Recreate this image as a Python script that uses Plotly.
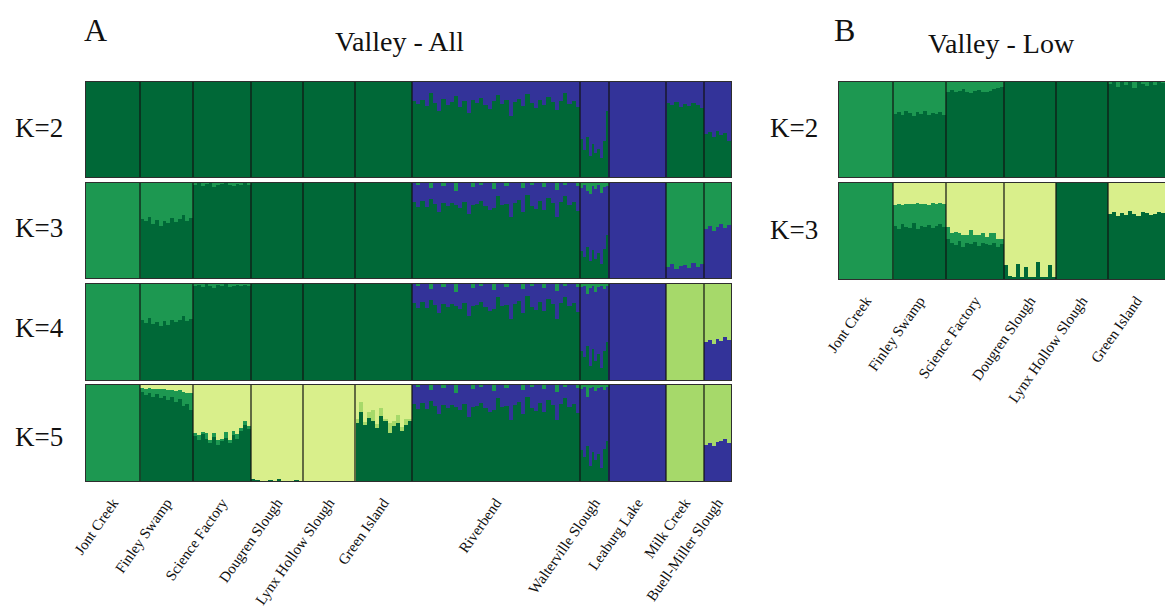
import plotly.graph_objects as go

# ---------------- data ----------------
POPS_A = ["Jont Creek", "Finley Swamp", "Science Factory", "Dougren Slough",
          "Lynx Hollow Slough", "Green Island", "Riverbend", "Walterville Slough",
          "Leaburg Lake", "Milk Creek", "Buell-Miller Slough"]
SIZES_A = [54, 53, 58, 52, 52, 57, 168, 29, 57, 38, 27]   # relative sample sizes
POPS_B = POPS_A[:6]
SIZES_B = SIZES_A[:6]

COLORS = {"dg": "#006837", "bl": "#333399", "mg": "#1d9851",
          "lg": "#a6d96a", "py": "#d9ef8b"}
ORDER_A = ["dg", "bl", "mg", "lg", "py"]
ORDER_B = ["dg", "mg", "py"]

RB_BLUE = [0.20, 0.23, 0.19, 0.25, 0.12, 0.22, 0.30, 0.18, 0.24, 0.21,
           0.15, 0.26, 0.20, 0.33, 0.19, 0.22, 0.17, 0.24, 0.28, 0.20,
           0.14, 0.23, 0.19, 0.36, 0.21, 0.18, 0.25, 0.13, 0.22, 0.27,
           0.19, 0.24, 0.16, 0.21, 0.29, 0.20, 0.12, 0.23, 0.20, 0.26]
RB_MG = [0, 0.02, 0, 0, 0.05, 0, 0, 0.03, 0, 0, 0.08, 0, 0, 0, 0.04, 0, 0.02, 0, 0, 0.06,
         0, 0, 0.03, 0, 0, 0, 0.05, 0, 0.02, 0, 0, 0.04, 0, 0, 0.07, 0, 0.02, 0, 0, 0.03]

FIN_K3_DG = [0.62, 0.60, 0.64, 0.57, 0.61, 0.55, 0.60, 0.58, 0.63, 0.59, 0.62, 0.66, 0.60, 0.63]
FIN_K4_DG = [0.63, 0.59, 0.65, 0.58, 0.60, 0.56, 0.61, 0.57, 0.62, 0.60, 0.63, 0.67, 0.61, 0.64]

A_K2 = {
    "Jont Creek": ("dg", {}), "Finley Swamp": ("dg", {}), "Science Factory": ("dg", {}),
    "Dougren Slough": ("dg", {}), "Lynx Hollow Slough": ("dg", {}), "Green Island": ("dg", {}),
    "Riverbend": ("dg", {"bl": RB_BLUE}),
    "Walterville Slough": ("bl", {"dg": [0.40, 0.28, 0.42, 0.22, 0.35, 0.25, 0.30, 0.20, 0.38, 0.70]}),
    "Leaburg Lake": ("bl", {}),
    "Milk Creek": ("bl", {"dg": [0.78, 0.76, 0.79, 0.74, 0.77, 0.75, 0.78, 0.76, 0.73]}),
    "Buell-Miller Slough": ("bl", {"dg": [0.45, 0.47, 0.42, 0.48, 0.44, 0.46, 0.38]}),
}
A_K3 = {
    "Jont Creek": ("mg", {}),
    "Finley Swamp": ("mg", {"dg": FIN_K3_DG}),
    "Science Factory": ("dg", {"mg": [0.02, 0, 0.03, 0.01, 0, 0.04, 0.02, 0.01, 0, 0.02, 0.03, 0.01, 0.02, 0, 0.02]}),
    "Dougren Slough": ("dg", {}), "Lynx Hollow Slough": ("dg", {}), "Green Island": ("dg", {}),
    "Riverbend": ("dg", {"bl": RB_BLUE, "mg": RB_MG}),
    "Walterville Slough": ("bl", {"dg": [0.28, 0.22, 0.33, 0.18, 0.30, 0.20, 0.26, 0.15, 0.31, 0.45],
                                  "mg": [0.05, 0.02, 0.08, 0.12, 0.03, 0.06, 0.02, 0.10, 0.04, 0.03]}),
    "Leaburg Lake": ("bl", {}),
    "Milk Creek": ("mg", {"bl": [0.12, 0.15, 0.10, 0.13, 0.14, 0.11, 0.16, 0.12, 0.15]}),
    "Buell-Miller Slough": ("mg", {"bl": [0.52, 0.55, 0.50, 0.54, 0.57, 0.53, 0.56]}),
}
A_K4 = {
    "Jont Creek": ("mg", {}),
    "Finley Swamp": ("mg", {"dg": FIN_K4_DG}),
    "Science Factory": ("dg", {"mg": [0.02, 0.01, 0.03, 0, 0.02, 0.04, 0.01, 0.02, 0, 0.03, 0.02, 0.01, 0.02, 0.01, 0.02]}),
    "Dougren Slough": ("dg", {}), "Lynx Hollow Slough": ("dg", {}), "Green Island": ("dg", {}),
    "Riverbend": ("dg", {"bl": RB_BLUE, "mg": RB_MG}),
    "Walterville Slough": ("bl", {"dg": [0.30, 0.24, 0.35, 0.15, 0.32, 0.20, 0.27, 0.12, 0.30, 0.40],
                                  "mg": [0.03, 0.02, 0.10, 0.04, 0.02, 0.08, 0.03, 0.02, 0.05, 0.02]}),
    "Leaburg Lake": ("bl", {}),
    "Milk Creek": ("lg", {}),
    "Buell-Miller Slough": ("lg", {"bl": [0.40, 0.42, 0.38, 0.43, 0.41, 0.45, 0.42]}),
}
A_K5 = {
    "Jont Creek": ("mg", {}),
    "Finley Swamp": ("py", {"dg": [0.93, 0.90, 0.92, 0.88, 0.91, 0.86, 0.89, 0.84, 0.87, 0.82, 0.85, 0.78, 0.80, 0.74],
                            "mg": [0.04, 0.06, 0.05, 0.08, 0.05, 0.10, 0.07, 0.11, 0.08, 0.12, 0.10, 0.15, 0.12, 0.18]}),
    "Science Factory": ("py", {"dg": [0.47, 0.43, 0.49, 0.44, 0.40, 0.46, 0.38, 0.42, 0.45, 0.40, 0.48, 0.44, 0.52, 0.58, 0.55],
                               "mg": [0.03, 0.05, 0.02, 0.06, 0.03, 0.04, 0.05, 0.02, 0.06, 0.03, 0.04, 0.05, 0.03, 0.04, 0.02]}),
    "Dougren Slough": ("py", {"dg": [0.02, 0.01, 0, 0, 0.01, 0, 0.02, 0, 0, 0, 0.01, 0]}),
    "Lynx Hollow Slough": ("py", {}),
    "Green Island": ("py", {"dg": [0.60, 0.72, 0.58, 0.66, 0.62, 0.55, 0.68, 0.63, 0.50, 0.57, 0.60, 0.52, 0.58, 0.62],
                            "lg": [0.05, 0.10, 0.03, 0.06, 0.12, 0.04, 0.08, 0.02, 0.10, 0.05, 0.09, 0.04, 0.07, 0.03]}),
    "Riverbend": ("dg", {"bl": RB_BLUE, "mg": RB_MG}),
    "Walterville Slough": ("bl", {"dg": [0.32, 0.25, 0.36, 0.16, 0.30, 0.22, 0.28, 0.14, 0.33, 0.42],
                                  "mg": [0.04, 0.02, 0.12, 0.03, 0.02, 0.06, 0.03, 0.02, 0.05, 0.02]}),
    "Leaburg Lake": ("bl", {}),
    "Milk Creek": ("lg", {}),
    "Buell-Miller Slough": ("lg", {"bl": [0.38, 0.40, 0.36, 0.41, 0.42, 0.44, 0.40]}),
}
B_K2 = {
    "Jont Creek": ("mg", {}),
    "Finley Swamp": ("mg", {"dg": [0.66, 0.68, 0.65, 0.70, 0.67, 0.64, 0.68, 0.66, 0.69, 0.65, 0.67, 0.66, 0.68, 0.65]}),
    "Science Factory": ("mg", {"dg": [0.90, 0.92, 0.89, 0.91, 0.93, 0.90, 0.88, 0.91, 0.92, 0.90, 0.89, 0.91, 0.93, 0.94, 0.95]}),
    "Dougren Slough": ("dg", {}), "Lynx Hollow Slough": ("dg", {}),
    "Green Island": ("mg", {"dg": [0.98, 1.0, 0.95, 1.0, 0.97, 1.0, 0.94, 1.0, 0.98, 0.96, 1.0, 0.97, 1.0, 0.99]}),
}
B_K3 = {
    "Jont Creek": ("mg", {}),
    "Finley Swamp": ("py", {"dg": [0.55, 0.52, 0.57, 0.54, 0.53, 0.58, 0.52, 0.55, 0.54, 0.56, 0.53, 0.55, 0.57, 0.54],
                            "mg": [0.22, 0.26, 0.20, 0.24, 0.25, 0.20, 0.27, 0.23, 0.24, 0.21, 0.26, 0.23, 0.22, 0.24]}),
    "Science Factory": ("py", {"dg": [0.42, 0.38, 0.35, 0.40, 0.33, 0.37, 0.36, 0.39, 0.34, 0.38, 0.36, 0.35, 0.37, 0.33, 0.36],
                               "mg": [0.12, 0.10, 0.14, 0.08, 0.13, 0.09, 0.15, 0.07, 0.12, 0.10, 0.08, 0.13, 0.11, 0.09, 0.06]}),
    "Dougren Slough": ("py", {"dg": [0.15, 0.03, 0.02, 0.16, 0.02, 0.12, 0.02, 0.02, 0.18, 0.02, 0.02, 0.15, 0.02]}),
    "Lynx Hollow Slough": ("dg", {}),
    "Green Island": ("py", {"dg": [0.68, 0.70, 0.66, 0.69, 0.67, 0.71, 0.68, 0.66, 0.70, 0.69, 0.67, 0.68, 0.70, 0.69]}),
}

K_LABELS_A = ["K=2", "K=3", "K=4", "K=5"]
K_LABELS_B = ["K=2", "K=3"]

# ---------------- layout geometry ----------------
W, H = 1165, 612
def py(px):
    return 1 - px / H

XDOM_A = [86 / W, 731 / W]
XDOM_B = [839 / W, 1.0]
ROWS_A = [(82, 177), (183, 278), (284, 380), (385, 481)]
ROWS_B = [(82, 177), (183, 279)]

fig = go.Figure()
layout_axes = {}
shapes = []
FONT = "Liberation Serif, Times New Roman, serif"

panels = []
for i, (rowdata, rows) in enumerate(zip([A_K2, A_K3, A_K4, A_K5], ROWS_A)):
    panels.append(("A", rowdata, rows, POPS_A, SIZES_A, ORDER_A, XDOM_A, i == 3))
for i, (rowdata, rows) in enumerate(zip([B_K2, B_K3], ROWS_B)):
    panels.append(("B", rowdata, rows, POPS_B, SIZES_B, ORDER_B, XDOM_B, i == 1))

for idx, (panel, rowdata, (top, bot), pops, sizes, order, xdom, bottom) in enumerate(panels):
    n = idx + 1
    xa = "x" if n == 1 else f"x{n}"
    ya = "y" if n == 1 else f"y{n}"
    xs = {c: [] for c in order}
    ys = {c: [] for c in order}
    ws = {c: [] for c in order}
    start = 0.0
    centers = []
    bounds = []
    for pop, size in zip(pops, sizes):
        rest, parts = rowdata[pop]
        nind = max([len(v) for v in parts.values()] + [1])
        w = size / nind
        for j in range(nind):
            vals = {c: (parts[c][j] if c in parts else 0.0) for c in order}
            vals[rest] = max(0.0, 1.0 - sum(v for c, v in vals.items() if c != rest))
            for c in order:
                if vals[c] > 0:
                    xs[c].append(start + (j + 0.5) * w)
                    ys[c].append(vals[c])
                    ws[c].append(w * 1.02)
        centers.append(start + size / 2)
        start += size
        bounds.append(start)
    total = start
    for c in order:
        if xs[c]:
            fig.add_trace(go.Bar(x=xs[c], y=ys[c], width=ws[c], marker_color=COLORS[c],
                                 marker_line_width=0, xaxis=xa, yaxis=ya,
                                 showlegend=False, hoverinfo="skip"))
    layout_axes["xaxis" if n == 1 else f"xaxis{n}"] = dict(
        domain=xdom, anchor=ya, range=[0, total], showgrid=False, zeroline=False,
        showline=True, mirror=True, linecolor="#2e2e2e", linewidth=1.2,
        ticks="", tickmode="array", tickvals=centers if bottom else [],
        ticktext=pops if bottom else [], showticklabels=bottom, tickangle=-55,
        ticklabelstandoff=6, automargin=False,
        tickfont=dict(family=FONT, size=15, color="#111111"), fixedrange=True)
    layout_axes["yaxis" if n == 1 else f"yaxis{n}"] = dict(
        domain=[py(bot), py(top)], anchor=xa, range=[0, 1], showgrid=False,
        zeroline=False, showline=True, mirror=True, linecolor="#2e2e2e", linewidth=1.2,
        showticklabels=False, ticks="", fixedrange=True, automargin=False)
    for b in bounds[:-1]:
        shapes.append(dict(type="line", xref=xa, yref=f"{ya} domain", x0=b, x1=b, y0=0, y1=1,
                           line=dict(color="#111111", width=1.2)))

annotations = []
def txt(x, y, s, size):
    annotations.append(dict(x=x / W, y=py(y), xref="paper", yref="paper", text=s,
                            showarrow=False, xanchor="center", yanchor="middle",
                            font=dict(family=FONT, size=size, color="#111111")))

txt(95, 30, "A", 32)
txt(399, 42, "Valley - All", 28)
txt(844, 30, "B", 32)
txt(1001, 44, "Valley - Low", 28)
for lab, yc in zip(K_LABELS_A, [128, 228, 328, 437]):
    txt(39, yc, lab, 27)
for lab, yc in zip(K_LABELS_B, [128, 230]):
    txt(794, yc, lab, 27)

fig.update_layout(width=W, height=H, margin=dict(l=0, r=0, t=0, b=0, autoexpand=False),
                  paper_bgcolor="white", plot_bgcolor="white", template="none",
                  barmode="stack", bargap=0, shapes=shapes, annotations=annotations,
                  **layout_axes)
fig.write_html("out.html", config={"displayModeBar": False},
               post_script="document.body.style.margin='0';document.body.style.overflow='hidden';")
